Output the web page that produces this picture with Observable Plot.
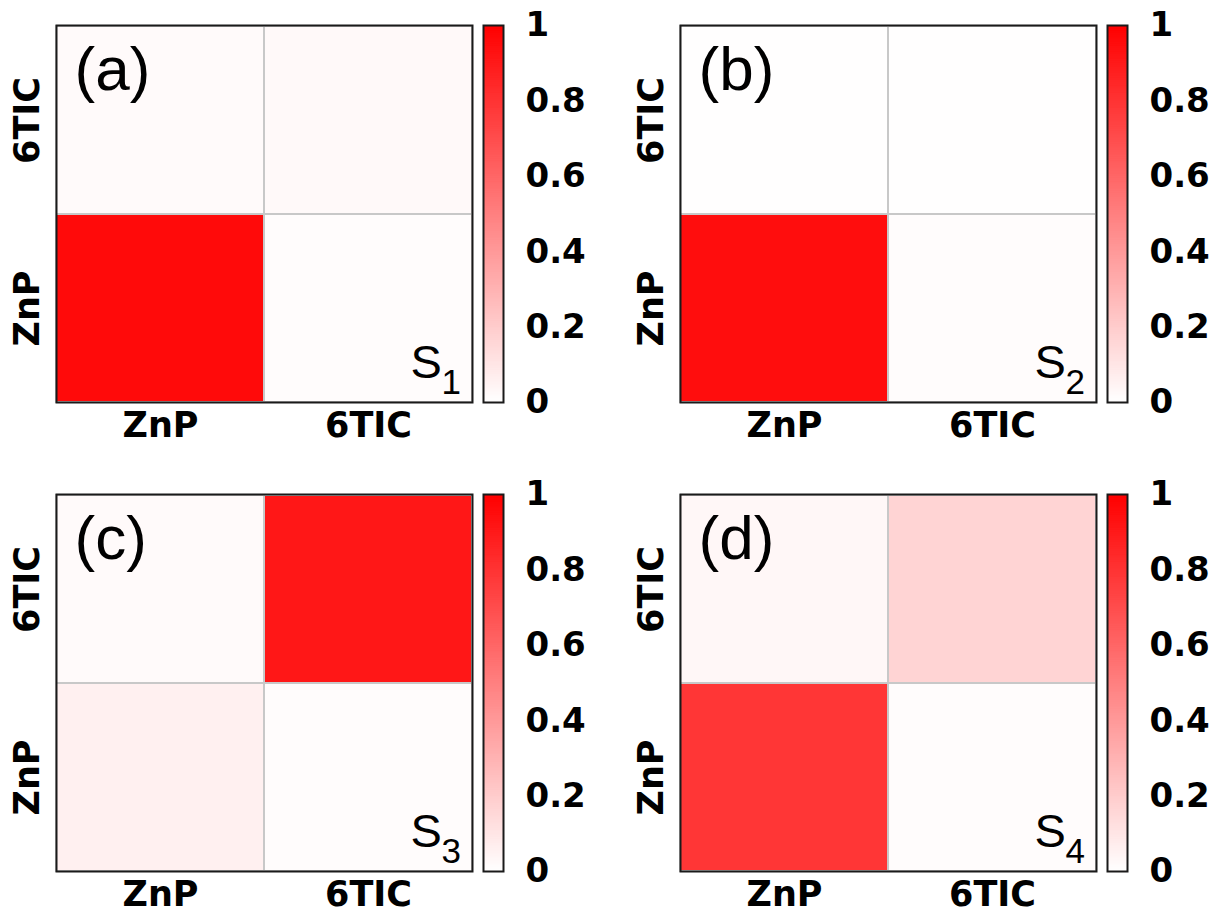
<!DOCTYPE html>
<html><head><meta charset="utf-8">
<script src="https://cdn.jsdelivr.net/npm/d3@7"></script>
<script src="https://cdn.jsdelivr.net/npm/@observablehq/plot@0.6"></script>
<style>
html,body{margin:0;padding:0;background:#fff;overflow:hidden}
#fig{position:relative;width:1218px;height:913px;overflow:hidden}
#fig svg{position:absolute;overflow:visible}
</style></head><body><div id="fig"></div>
<script>
// ---- data ----
const columns = ["ZnP", "6TIC"];
const rowsTopToBottom = ["6TIC", "ZnP"];
const cellCol = ["ZnP", "ZnP", "6TIC", "6TIC"];
const cellRow = ["ZnP", "6TIC", "ZnP", "6TIC"];
const s1Values = [0.96, 0.02, 0.01, 0.025];
const s2Values = [0.95, 0.005, 0.01, 0.005];
const s3Values = [0.06, 0.02, 0.01, 0.91];
const s4Values = [0.79, 0.03, 0.01, 0.17];
const panelLetters = ["(a)", "(b)", "(c)", "(d)"];
const stateSubscripts = ["1", "2", "3", "4"];
const colorbarTicks = [0, 0.2, 0.4, 0.6, 0.8, 1];

const panelValues = [s1Values, s2Values, s3Values, s4Values];
const offsets = [[0, 0], [624, 0], [0, 469], [624, 469]];
const colorOpts = {type: "linear", domain: [0, 1], range: ["#ffffff", "#ff0000"]};
const bold = "DejaVu Sans";
const sans = "Liberation Sans";
const fig = document.getElementById("fig");

panelValues.forEach((vals, i) => {
  const [ox, oy] = offsets[i];
  const cells = vals.map((v, k) => ({col: cellCol[k], row: cellRow[k], v}));
  const heat = Plot.plot({
    width: 480, height: 450,
    marginLeft: 56, marginRight: 8, marginTop: 25, marginBottom: 48,
    style: {background: "transparent", overflow: "visible"},
    x: {type: "band", domain: columns, padding: 0, axis: null},
    y: {type: "band", domain: rowsTopToBottom, padding: 0, axis: null},
    color: colorOpts,
    marks: [
      Plot.cell(cells, {x: "col", y: "row", fill: "v", stroke: "#c8c8c8", strokeWidth: 2}),
      Plot.frame({stroke: "#1a1a1a", strokeWidth: 2}),
      Plot.text(columns, {x: d => d, frameAnchor: "bottom", dy: 23, lineAnchor: "middle", textAnchor: "middle",
        fontSize: 35, fontWeight: "bold", fontFamily: bold, fill: "#000"}),
      Plot.text(rowsTopToBottom, {y: d => d, frameAnchor: "left", dx: -29, rotate: -90, lineAnchor: "middle",
        textAnchor: "middle", fontSize: 35, fontWeight: "bold", fontFamily: bold, fill: "#000"}),
      Plot.text([panelLetters[i]], {text: d => d, frameAnchor: "top-left", dx: 18, dy: 45, lineAnchor: "middle",
        textAnchor: "start", fontSize: 62, fontFamily: sans, fill: "#000"}),
      Plot.text(["S"], {text: d => d, frameAnchor: "bottom-right", dx: -62, dy: -40, lineAnchor: "middle",
        textAnchor: "start", fontSize: 47, fontFamily: sans, fill: "#000"}),
      Plot.text([stateSubscripts[i]], {text: d => d, frameAnchor: "bottom-right", dx: -31, dy: -20, lineAnchor: "middle",
        textAnchor: "start", fontSize: 35, fontFamily: sans, fill: "#000"})
    ]
  });
  heat.style.left = ox + "px";
  heat.style.top = oy + "px";
  fig.appendChild(heat);

  const step = 0.005;
  const ramp = d3.range(0, 1, step);
  const cb = Plot.plot({
    width: 124, height: 450,
    marginLeft: 13, marginRight: 91, marginTop: 25, marginBottom: 48,
    style: {background: "transparent", overflow: "visible", fontSize: "34px", fontWeight: "bold", fontFamily: bold},
    y: {type: "linear", domain: [0, 1]},
    color: colorOpts,
    marks: [
      Plot.rect(ramp, {y1: d => d, y2: d => Math.min(1, d + step * 1.6), fill: d => d + step / 2}),
      Plot.frame({stroke: "#1a1a1a", strokeWidth: 2}),
      Plot.axisY({anchor: "right", ticks: colorbarTicks, tickSize: 0, tickPadding: 22,
        tickFormat: d => String(d), fontSize: 34, fontWeight: "bold", fontFamily: bold, fill: "#000", label: null})
    ]
  });
  cb.style.left = (ox + 470) + "px";
  cb.style.top = oy + "px";
  fig.appendChild(cb);
});
</script></body></html>
